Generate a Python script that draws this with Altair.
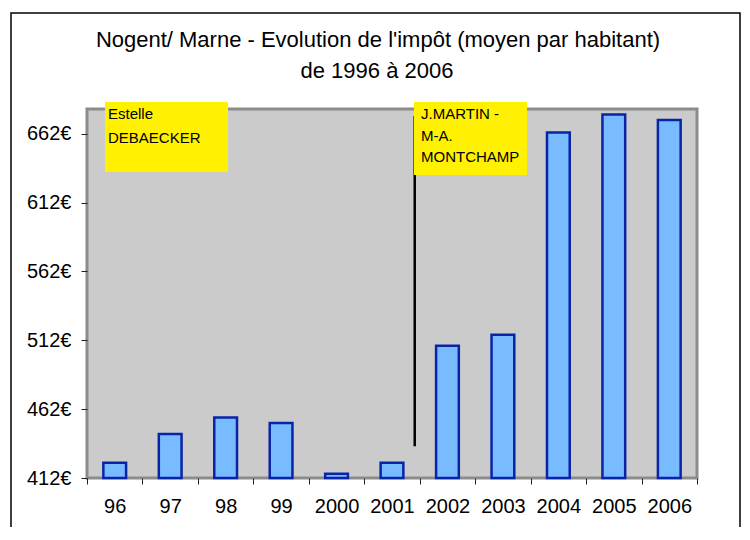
import altair as alt
import pandas as pd

# ---- data ----
years = ["96", "97", "98", "99", "2000", "2001", "2002", "2003", "2004", "2005", "2006"]
impot = [423, 444, 456, 452, 415, 423, 508, 516, 663, 676, 672]
y_ticks = [412, 462, 512, 562, 612, 662]
y_min, y_max = 412, 680
title_lines = ["Nogent/ Marne - Evolution de l'impôt (moyen par habitant)", "de 1996 à 2006"]
box_texts = ["Estelle\nDEBAECKER", "J.MARTIN -\nM-A.\nMONTCHAMP"]
change_year = ["2002"]
change_top = [675]
change_bottom = [435]

FONT = "Liberation Sans"

df = pd.DataFrame({"year": years, "value": impot})

x_enc = alt.X(
    "year:N",
    sort=years,
    title=None,
    scale=alt.Scale(paddingInner=0, paddingOuter=0),
    axis=alt.Axis(labelAngle=0, tickBand="extent"),
)
y_enc = alt.Y(
    "value:Q",
    title=None,
    scale=alt.Scale(domain=[y_min, y_max], zero=False, nice=False),
    axis=alt.Axis(values=y_ticks, labelExpr="datum.value + '€'"),
)

bars = alt.Chart(df).mark_bar(
    width=alt.RelativeBandSize(0.41), fill="#78bbff", stroke="#0a24a8", strokeWidth=2.5
).encode(x=x_enc, y=y_enc, y2=alt.datum(y_min))

rule_df = pd.DataFrame({"year": change_year, "value": change_top, "bottom": change_bottom})
rule = alt.Chart(rule_df).mark_rule(color="black", strokeWidth=2.5, xOffset=-5).encode(
    x=alt.X("year:N", sort=years, bandPosition=0, title=None),
    y=alt.Y("value:Q", title=None),
    y2="bottom:Q",
)

one = pd.DataFrame({"t": [""]})

frame = alt.Chart(one).mark_rect(fillOpacity=0, stroke="black", strokeWidth=1.5).encode(
    x=alt.value(-76), x2=alt.value(653), y=alt.value(-96), y2=alt.value(440)
)

box1 = alt.Chart(one).mark_rect(color="#fff100").encode(
    x=alt.value(18), x2=alt.value(141), y=alt.value(-7), y2=alt.value(63)
)
text1 = alt.Chart(pd.DataFrame({"t": [box_texts[0]]})).mark_text(
    align="left", baseline="alphabetic", fontSize=15, lineBreak="\n", lineHeight=24,
    font=FONT, color="black"
).encode(x=alt.value(21), y=alt.value(9.5), text="t:N")

box2 = alt.Chart(one).mark_rect(color="#fff100").encode(
    x=alt.value(327), x2=alt.value(440), y=alt.value(-7), y2=alt.value(66)
)
text2 = alt.Chart(pd.DataFrame({"t": [box_texts[1]]})).mark_text(
    align="left", baseline="alphabetic", fontSize=15, lineBreak="\n", lineHeight=21.5,
    font=FONT, color="black"
).encode(x=alt.value(334), y=alt.value(10), text="t:N")

title1 = alt.Chart(pd.DataFrame({"t": [title_lines[0]]})).mark_text(
    align="center", baseline="alphabetic", fontSize=22, font=FONT, color="black"
).encode(x=alt.value(291), y=alt.value(-62), text="t:N")
title2 = alt.Chart(pd.DataFrame({"t": [title_lines[1]]})).mark_text(
    align="center", baseline="alphabetic", fontSize=22, font=FONT, color="black"
).encode(x=alt.value(290), y=alt.value(-31), text="t:N")

chart = alt.layer(
    bars, rule, frame, box1, text1, box2, text2, title1, title2
).properties(
    width=610,
    height=369,
    autosize=alt.AutoSizeParams(type="none"),
    padding={"left": 79, "top": 101, "right": 45, "bottom": 49},
    background="white",
).configure_view(
    fill="#cbcbcb", stroke="#8c8c8c", strokeWidth=3
).configure_axis(
    grid=False, domain=False, tickSize=6, tickColor="#222222", tickWidth=1,
    labelFontSize=20, labelColor="black", labelFont=FONT,
).configure_axisX(
    labelPadding=12
).configure_axisY(
    labelPadding=10
)

chart.save("out.html", embed_options={"renderer": "svg", "actions": False})
